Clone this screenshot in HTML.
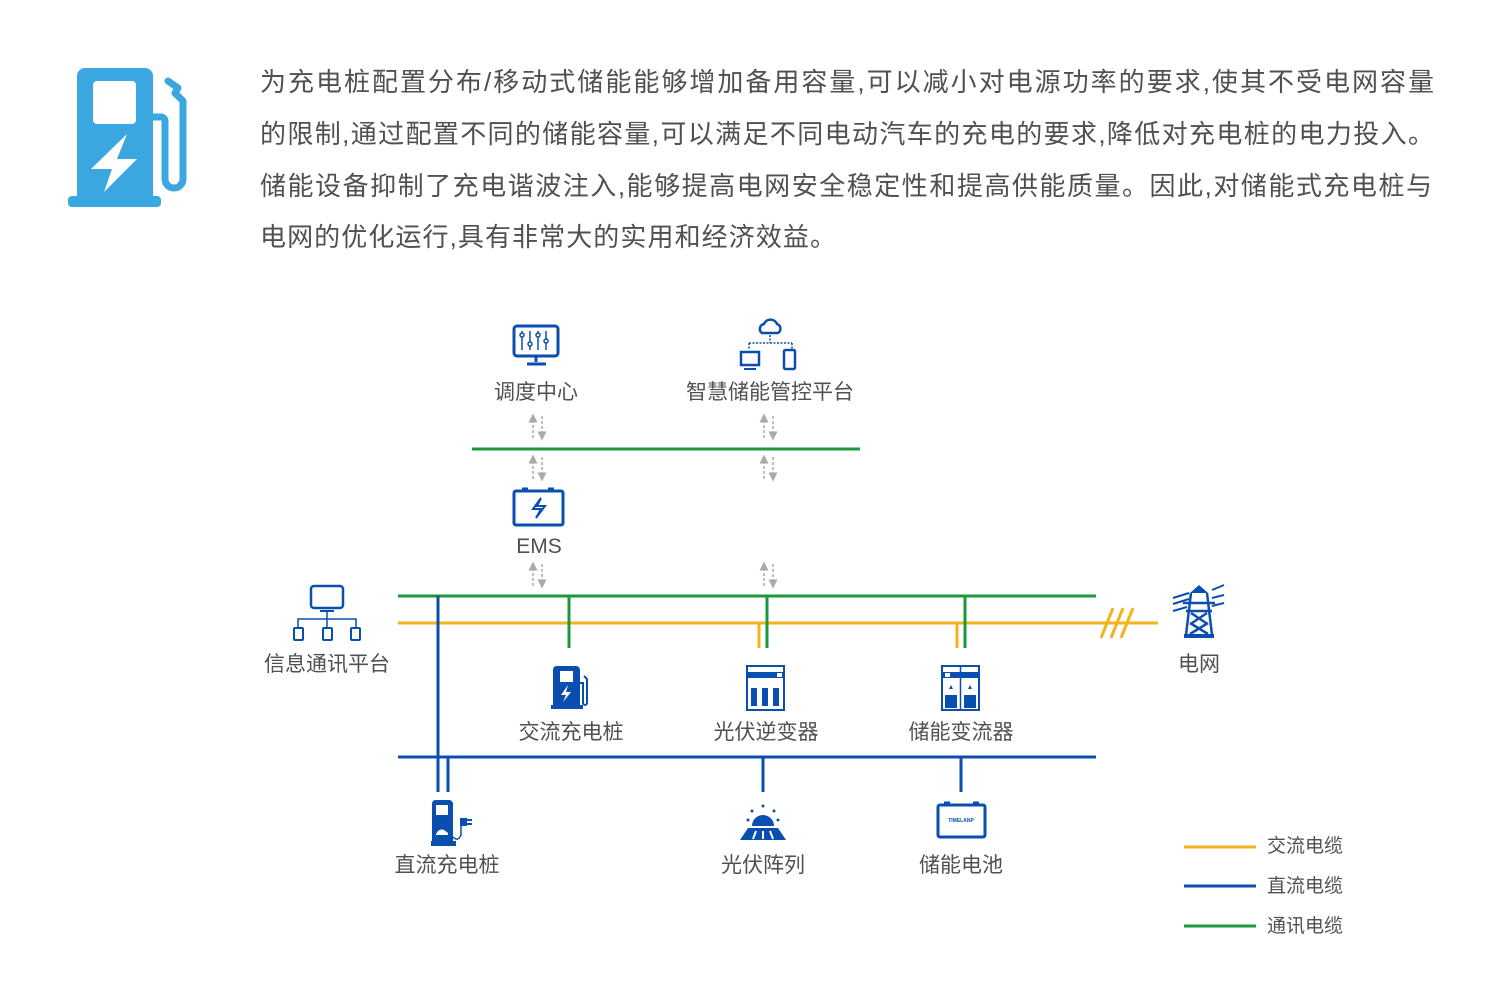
<!DOCTYPE html>
<html><head><meta charset="utf-8"><style>
html,body{margin:0;padding:0;background:#fff;}
svg{display:block;}
text{font-family:"Liberation Sans","Noto Sans CJK SC",sans-serif;}
</style></head><body>
<svg width="1500" height="1002" viewBox="0 0 1500 1002" xmlns="http://www.w3.org/2000/svg">
<defs>
<marker id="au" viewBox="0 0 6 6" refX="3" refY="3" markerWidth="6" markerHeight="6" orient="auto"><path d="M0,0 L6,3 L0,6z" fill="#aaa"/></marker>
</defs>
<!-- top-left icon -->
<g fill="#3aa7e0">
<path d="M85,68 h60 a8,8 0 0 1 8,8 v120 h4 a4,4 0 0 1 4,4 v3 a4,4 0 0 1 -4,4 h-85 a4,4 0 0 1 -4,-4 v-3 a4,4 0 0 1 4,-4 h5 v-120 a8,8 0 0 1 8,-8z"/>
</g>
<rect x="93" y="81" width="43" height="43" rx="4" fill="#fff"/>
<path d="M127,134 L91,169 L112,169 L104,192 L137,159 L117,159 z" fill="#fff"/>
<path d="M153,117 h8 a4,4 0 0 1 4,4 v58 a9,9 0 0 0 18,0 v-78 l-8,-8 l3,-5 l-10,-7" fill="none" stroke="#3aa7e0" stroke-width="7" stroke-linejoin="round" stroke-linecap="round"/>
<!-- paragraph -->
<g fill="#505050" font-size="26">
<text x="260" y="91" textLength="1174" lengthAdjust="spacing">为充电桩配置分布/移动式储能能够增加备用容量,可以减小对电源功率的要求,使其不受电网容量</text>
<text x="260" y="143" textLength="1174" lengthAdjust="spacing">的限制,通过配置不同的储能容量,可以满足不同电动汽车的充电的要求,降低对充电桩的电力投入。</text>
<text x="260" y="195" textLength="1172" lengthAdjust="spacing">储能设备抑制了充电谐波注入,能够提高电网安全稳定性和提高供能质量。因此,对储能式充电桩与</text>
<text x="260" y="246" textLength="576" lengthAdjust="spacing">电网的优化运行,具有非常大的实用和经济效益。</text>
</g>
<!-- buses -->
<g stroke-width="3" fill="none">
<line x1="472" y1="449" x2="860" y2="449" stroke="#1a9a3a"/>
<line x1="398" y1="596" x2="1096" y2="596" stroke="#1a9a3a"/>
<line x1="398" y1="623" x2="1158" y2="623" stroke="#f5b21b"/>
<line x1="398" y1="757" x2="1096" y2="757" stroke="#0a4fb0"/>
<line x1="438" y1="596" x2="438" y2="792" stroke="#0a4fb0"/>
<line x1="448" y1="757" x2="448" y2="792" stroke="#0a4fb0"/>
<line x1="569" y1="596" x2="569" y2="648" stroke="#1a9a3a"/>
<line x1="767" y1="596" x2="767" y2="648" stroke="#1a9a3a"/>
<line x1="759" y1="623" x2="759" y2="648" stroke="#f5b21b"/>
<line x1="965" y1="596" x2="965" y2="648" stroke="#1a9a3a"/>
<line x1="957" y1="623" x2="957" y2="648" stroke="#f5b21b"/>
<line x1="763" y1="757" x2="763" y2="792" stroke="#0a4fb0"/>
<line x1="961" y1="757" x2="961" y2="792" stroke="#0a4fb0"/>
<line x1="1101" y1="638" x2="1113" y2="608" stroke="#f5b21b"/>
<line x1="1111" y1="638" x2="1123" y2="608" stroke="#f5b21b"/>
<line x1="1121" y1="638" x2="1133" y2="608" stroke="#f5b21b"/>
</g>
<!-- dashed arrows -->
<g stroke="#aaa" stroke-width="1.5" stroke-dasharray="3,2" fill="none">
<g id="da"><line x1="533" y1="438" x2="533" y2="418" marker-end="url(#au)"/><line x1="542" y1="416" x2="542" y2="436" marker-end="url(#au)"/></g>
<use href="#da" transform="translate(0,41)"/>
<use href="#da" transform="translate(0,148)"/>
<use href="#da" transform="translate(231,0)"/>
<use href="#da" transform="translate(231,41)"/>
<use href="#da" transform="translate(231,148)"/>
</g>
<!-- icons -->
<g fill="none" stroke="#0a4fb0" stroke-width="3">
<rect x="514" y="326" width="44" height="30" rx="3"/>
<line x1="536" y1="356" x2="536" y2="362"/><line x1="527" y1="364" x2="546" y2="364"/>
<g stroke-width="1.5"><line x1="522" y1="331" x2="522" y2="350"/><line x1="530" y1="331" x2="530" y2="350"/><line x1="538" y1="331" x2="538" y2="350"/><line x1="546" y1="331" x2="546" y2="350"/>
<circle cx="522" cy="335" r="2" fill="#fff"/><circle cx="530" cy="344" r="2" fill="#fff"/><circle cx="538" cy="335" r="2" fill="#fff"/><circle cx="546" cy="341" r="2" fill="#fff"/></g>
<path d="M762,333 a5,5 0 0 1 2,-9 a7,7 0 0 1 13,0 a5,5 0 0 1 1,9z" stroke-width="2.5"/>
<path d="M749,343 h43 M770,335 v8 M749,343 v6 M792,343 v6" stroke-width="1.5" stroke-dasharray="2,1.5"/>
<rect x="741" y="352" width="18" height="13" stroke-width="2.5"/><line x1="744" y1="369" x2="756" y2="369" stroke-width="2"/>
<rect x="784" y="350" width="11" height="19" rx="1.5" stroke-width="2.5"/>
<rect x="514" y="491" width="49" height="34" rx="2"/>
<line x1="522" y1="489" x2="528" y2="489"/><line x1="548" y1="489" x2="554" y2="489"/>
<path d="M541,498 l-8,11 h8 l-5,9 l9,-12 h-8z" stroke-width="2"/>
<rect x="311" y="586" width="32" height="22" rx="3" stroke-width="2.5"/>
<line x1="320" y1="611" x2="334" y2="611" stroke-width="2"/>
<path d="M327,611 v8 M298,628 v-9 h58 v9 M327,619 v9" stroke-width="1.5"/>
<rect x="294" y="628" width="9" height="12" rx="1" stroke-width="2"/><rect x="323" y="628" width="9" height="12" rx="1" stroke-width="2"/><rect x="351" y="628" width="9" height="12" rx="1" stroke-width="2"/>
<rect x="938" y="805" width="47" height="32" rx="2"/>
<line x1="944" y1="803" x2="950" y2="803"/><line x1="973" y1="803" x2="979" y2="803"/>
</g>
<text x="961" y="822" font-size="5" fill="#0a4fb0" text-anchor="middle" font-weight="bold">TIMELANP</text>
<g fill="#0a4fb0">
<path d="M556,666 h20 a4,4 0 0 1 4,4 v35 h3 v4 h-32 v-4 h2 v-35 a4,4 0 0 1 3,-4z"/>
<rect x="560" y="671" width="13" height="11" fill="#fff"/>
<path d="M568,685 l-7,10 h5 l-3,7 l8,-10 h-5z" fill="#fff"/>
<path d="M580,683 h3 v20 a2,2 0 0 0 4,0 v-24 l-3,-3" fill="none" stroke="#0a4fb0" stroke-width="2"/>
<rect x="747" y="666" width="37" height="44" fill="none" stroke="#0a4fb0" stroke-width="2"/>
<rect x="747" y="672" width="37" height="6"/><rect x="777" y="673" width="5" height="4" fill="#fff"/>
<rect x="751" y="688" width="6" height="18"/><rect x="762" y="688" width="6" height="18"/><rect x="773" y="688" width="6" height="18"/>
<rect x="942" y="666" width="37" height="44" fill="none" stroke="#0a4fb0" stroke-width="2"/>
<line x1="960.5" y1="666" x2="960.5" y2="710" stroke="#0a4fb0" stroke-width="1.5"/>
<rect x="942" y="672" width="37" height="6"/><rect x="945" y="673" width="5" height="4" fill="#fff"/>
<rect x="945" y="695" width="12" height="13"/><rect x="964" y="695" width="12" height="13"/>
<path d="M951,685 l2,4 h-4z M970,685 l2,4 h-4z"/>
<path d="M435,800 h14 a4,4 0 0 1 4,4 v37 h3 v5 h-25 v-5 h1 v-37 a4,4 0 0 1 3,-4z"/>
<rect x="436" y="805" width="12" height="10" fill="#fff"/>
<path d="M436,834 q3,-6 8,-4 l4,3 v2 h-12z" fill="#fff"/>
<path d="M453,837 q5,5 8,-2 v-12" fill="none" stroke="#0a4fb0" stroke-width="1.5"/>
<rect x="460" y="818" width="7" height="8"/><rect x="467" y="819" width="5" height="2"/><rect x="467" y="823" width="5" height="2"/>
<path d="M752,826 a11,11 0 0 1 22,0z"/>
<circle cx="763" cy="806" r="1.5"/><circle cx="752" cy="811" r="1.5"/><circle cx="774" cy="811" r="1.5"/><circle cx="748" cy="820" r="1.5"/><circle cx="778" cy="820" r="1.5"/>
<path d="M748,828 h30 l8,12 h-46z"/>
<g stroke="#fff" stroke-width="2"><line x1="756" y1="831" x2="753" y2="839"/><line x1="763" y1="831" x2="763" y2="839"/><line x1="770" y1="831" x2="773" y2="839"/></g>
<path d="M1199,585 l-9,8 h18z"/>
<path d="M1191,593 l-5,42 M1207,593 l5,42 M1183,603 h32 M1186,611 h26 M1191,613 l15,10 M1207,613 l-15,10 M1190,623 l18,11 M1208,623 l-18,11" stroke="#0a4fb0" stroke-width="2.5" fill="none"/>
<rect x="1184" y="634" width="30" height="4"/>
<path d="M1173,598 l16,-5 M1173,604 l16,-5 M1173,611 l14,-4 M1212,590 l12,-5 M1212,598 l12,-3 M1212,606 l12,-3" stroke="#0a4fb0" stroke-width="2" fill="none"/>
</g>
<g fill="#505050" font-size="21" text-anchor="middle">
<text x="536" y="399">调度中心</text>
<text x="770" y="399">智慧储能管控平台</text>
<text x="539" y="553">EMS</text>
<text x="327" y="671">信息通讯平台</text>
<text x="1199" y="671">电网</text>
<text x="571" y="739">交流充电桩</text>
<text x="766" y="739">光伏逆变器</text>
<text x="961" y="739">储能变流器</text>
<text x="447" y="872">直流充电桩</text>
<text x="763" y="872">光伏阵列</text>
<text x="961" y="872">储能电池</text>
</g>
<g stroke-width="3">
<line x1="1184" y1="847" x2="1256" y2="847" stroke="#f5b21b"/>
<line x1="1184" y1="886" x2="1256" y2="886" stroke="#0a4fb0"/>
<line x1="1184" y1="926" x2="1256" y2="926" stroke="#1a9a3a"/>
</g>
<g fill="#505050" font-size="19">
<text x="1267" y="852">交流电缆</text>
<text x="1267" y="892">直流电缆</text>
<text x="1267" y="932">通讯电缆</text>
</g>
</svg>
</body></html>
